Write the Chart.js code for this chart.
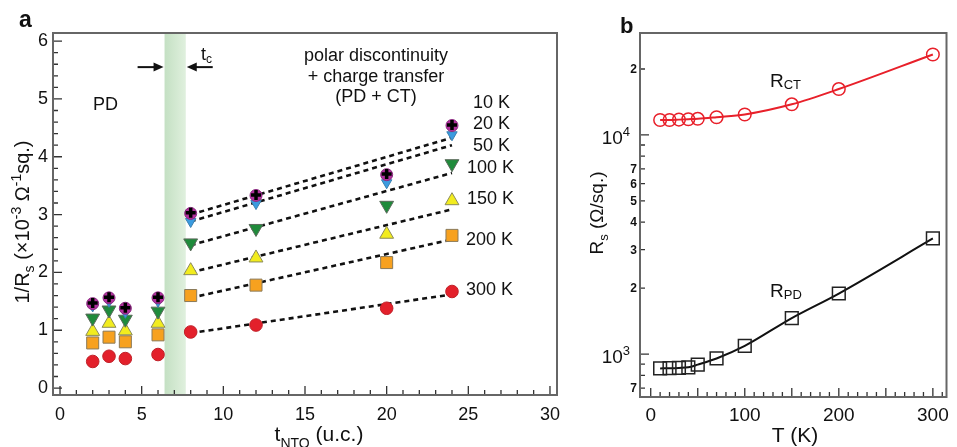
<!DOCTYPE html>
<html>
<head>
<meta charset="utf-8">
<script src="https://cdn.jsdelivr.net/npm/chart.js@4.4.1/dist/chart.umd.min.js"></script>
<style>
  html, body { margin: 0; padding: 0; background: #fff; }
  #wrap { position: relative; width: 957px; height: 447px; overflow: hidden; }
  #chartA { position: absolute; left: 0; top: 0; }
  #chartB { position: absolute; left: 575px; top: 0; }
</style>
</head>
<body>
<div id="wrap">
  <canvas id="chartA" width="575" height="447"></canvas>
  <canvas id="chartB" width="382" height="447"></canvas>
</div>
<script>
// ---- panel a data: 1/Rs (x1e-3 per ohm sq.) vs NTO thickness ----
const tNTO = [2, 3, 4, 6, 8, 12, 20, 24];
const rs10K  = [1.47, 1.57, 1.39, 1.57, 3.03, 3.34, 3.70, 4.55];
const rs20K  = [1.46, 1.56, 1.38, 1.56, 3.02, 3.33, 3.69, 4.54];
const rs50K  = [1.42, 1.50, 1.31, 1.50, 2.88, 3.19, 3.55, 4.38];
const rs100K = [1.21, 1.35, 1.19, 1.33, 2.51, 2.76, 3.16, 3.88];
const rs150K = [0.98, 1.12, 0.99, 1.12, 2.03, 2.25, 2.66, 3.24];
const rs200K = [0.78, 0.88, 0.80, 0.92, 1.60, 1.78, 2.17, 2.64];
const rs300K = [0.46, 0.55, 0.51, 0.58, 0.97, 1.09, 1.38, 1.67];

// dashed linear fits, read at both ends
const fitT    = [8, 24];
const fit10K  = [3.00, 4.33];
const fit50K  = [2.88, 4.20];
const fit100K = [2.47, 3.72];
const fit150K = [2.00, 3.09];
const fit200K = [1.56, 2.57];
const fit300K = [0.95, 1.62];

const bandT = [6.4, 7.7];           // shaded t_c region
const tempLabels = ['10 K', '20 K', '50 K', '100 K', '150 K', '200 K', '300 K'];
const xTicksA = [0, 5, 10, 15, 20, 25, 30];
const yTicksA = [0, 1, 2, 3, 4, 5, 6];

// ---- panel b data: Rs vs T ----
const tempK = [10, 20, 30, 40, 50, 70, 100, 150, 200, 300];
const rCT = [11700, 11700, 11750, 11800, 11850, 12050, 12400, 13800, 16200, 23300];
const rPD = [860, 862, 865, 870, 895, 955, 1090, 1460, 1890, 3370];
const xTicksB = [0, 100, 200, 300];
const yTicksB = [700, 800, 900, 1000, 2000, 3000, 4000, 5000, 6000, 7000, 8000, 9000, 10000, 20000];
const yTickTextB = ['7', '', '', '10^3', '2', '3', '4', '5', '6', '7', '', '', '10^4', '2'];

const FONT = '"Liberation Sans", Arial, Helvetica, sans-serif';
Chart.defaults.font.family = FONT;
Chart.defaults.color = '#111';

function pts(xs, ys) {
  return xs.map((x, i) => ({ x: x, y: ys[i] }));
}

function fontFor(p, size) {
  const s = (p.sub || p.sup) ? Math.round(size * 0.68) : size;
  return (p.bold ? 'bold ' : '') + s + 'px ' + FONT;
}

// draws text with sub/superscript parts
function drawRich(ctx, parts, x, y, size, align) {
  const widths = parts.map(p => { ctx.font = fontFor(p, size); return ctx.measureText(p.t).width; });
  const total = widths.reduce((a, b) => a + b, 0);
  let cx = align === 'center' ? x - total / 2 : align === 'right' ? x - total : x;
  ctx.textAlign = 'left';
  ctx.textBaseline = 'alphabetic';
  parts.forEach((p, i) => {
    ctx.font = fontFor(p, size);
    let dy = 0;
    if (p.sub) dy = p.dy !== undefined ? p.dy : size * 0.3;
    if (p.sup) dy = -size * 0.4;
    ctx.fillText(p.t, cx, y + dy);
    cx += widths[i];
  });
}

function arrow(ctx, x1, y1, x2, y2) {
  const dir = Math.sign(x2 - x1);
  ctx.beginPath();
  ctx.moveTo(x1, y1);
  ctx.lineTo(x2 - dir * 8, y2);
  ctx.stroke();
  ctx.beginPath();
  ctx.moveTo(x2, y2);
  ctx.lineTo(x2 - dir * 10, y2 - 4.5);
  ctx.lineTo(x2 - dir * 10, y2 + 4.5);
  ctx.closePath();
  ctx.fill();
}

// inward tick marks + frame
function drawFrame(chart, xMinor, xMajor, yMinorVals, yMajorVals) {
  const ctx = chart.ctx, a = chart.chartArea;
  const xs = chart.scales.x, ys = chart.scales.y;
  ctx.save();
  ctx.strokeStyle = '#333';
  ctx.lineWidth = 1.3;
  ctx.beginPath();
  xMinor.forEach(v => {
    const p = xs.getPixelForValue(v);
    const len = xMajor.includes(v) ? 9 : 5;
    ctx.moveTo(p, a.bottom); ctx.lineTo(p, a.bottom - len);
  });
  yMinorVals.forEach(v => {
    const p = ys.getPixelForValue(v);
    const len = yMajorVals.includes(v) ? 9 : 5;
    ctx.moveTo(a.left, p); ctx.lineTo(a.left + len, p);
  });
  ctx.stroke();
  ctx.strokeStyle = '#666';
  ctx.lineWidth = 2;
  ctx.strokeRect(a.left, a.top, a.right - a.left, a.bottom - a.top);
  ctx.restore();
}

const bandPlugin = {
  id: 'band',
  beforeDatasetsDraw(chart) {
    const ctx = chart.ctx, a = chart.chartArea, xs = chart.scales.x;
    const x1 = xs.getPixelForValue(bandT[0]), x2 = xs.getPixelForValue(bandT[1]);
    const g = ctx.createLinearGradient(x1, 0, x2, 0);
    g.addColorStop(0, '#c4e0c3');
    g.addColorStop(1, '#e0f0de');
    ctx.save();
    ctx.fillStyle = g;
    ctx.fillRect(x1, a.top, x2 - x1, a.bottom - a.top);
    ctx.restore();
  }
};

const decorA = {
  id: 'decorA',
  afterDraw(chart) {
    const ctx = chart.ctx, xs = chart.scales.x, ys = chart.scales.y;
    const xMinor = [], yMinor = [];
    for (let v = 0; v <= 30; v++) xMinor.push(v);
    for (let k = 0; k <= 30; k++) yMinor.push(Math.round(k * 2) / 10);
    drawFrame(chart, xMinor, xTicksA, yMinor, yTicksA);

    ctx.save();
    ctx.fillStyle = '#111';
    // panel letter
    ctx.font = 'bold 23px ' + FONT;
    ctx.fillText('a', 19, 27);
    // axis titles
    drawRich(ctx, [{ t: 't' }, { t: 'NTO', sub: true, dy: 7 }, { t: ' (u.c.)' }], 319, 441, 21, 'center');
    ctx.save();
    ctx.translate(29, 222);
    ctx.rotate(-Math.PI / 2);
    drawRich(ctx, [{ t: '1/R' }, { t: 's', sub: true, dy: 5 }, { t: ' (×10' }, { t: '-3', sup: true },
      { t: ' Ω' }, { t: '-1', sup: true }, { t: 'sq.)' }], 0, 0, 20, 'center');
    ctx.restore();
    // region notes
    drawRich(ctx, [{ t: 'PD' }], 93, 110, 18, 'left');
    drawRich(ctx, [{ t: 't' }, { t: 'c', sub: true, dy: 3 }], 201, 60, 18, 'left');
    ctx.font = '18px ' + FONT;
    ctx.textAlign = 'center';
    ctx.fillText('polar discontinuity', 376, 61);
    ctx.fillText('+ charge transfer', 376, 82);
    ctx.fillText('(PD + CT)', 376, 102);
    // arrows around t_c band
    ctx.strokeStyle = '#111';
    ctx.lineWidth = 2;
    const ay = ys.getPixelForValue(5.55);
    arrow(ctx, xs.getPixelForValue(4.75), ay, xs.getPixelForValue(bandT[0]) - 1, ay);
    arrow(ctx, xs.getPixelForValue(9.35), ay, xs.getPixelForValue(bandT[1]) + 1, ay);
    // temperature labels
    const lx = [473, 473, 473, 467, 467, 466, 466];
    const ly = [108, 129, 151, 173, 204, 245, 295];
    ctx.font = '18px ' + FONT;
    ctx.textAlign = 'left';
    tempLabels.forEach((t, i) => ctx.fillText(t, lx[i], ly[i]));
    ctx.restore();
  }
};

const decorB = {
  id: 'decorB',
  afterDraw(chart) {
    const ctx = chart.ctx, ys = chart.scales.y, a = chart.chartArea;
    const xMinor = [];
    for (let v = 0; v <= 310; v += 10) xMinor.push(v);
    const xMajor = [0, 50, 100, 150, 200, 250, 300];
    drawFrame(chart, xMinor, xMajor, yTicksB, [1000, 10000]);

    ctx.save();
    ctx.fillStyle = '#111';
    // y tick labels on log axis
    yTicksB.forEach((v, i) => {
      const txt = yTickTextB[i];
      if (!txt) return;
      const p = ys.getPixelForValue(v);
      if (txt.indexOf('^') > 0) {
        const [b, e] = txt.split('^');
        drawRich(ctx, [{ t: b }, { t: e, sup: true }], a.left - 10, p + 9, 19, 'right');
      } else {
        ctx.font = 'bold 12px ' + FONT;
        ctx.textAlign = 'right';
        ctx.textBaseline = 'middle';
        ctx.fillText(txt, a.left - 3, p + 1);
      }
    });
    ctx.textBaseline = 'alphabetic';
    ctx.font = 'bold 22px ' + FONT;
    ctx.textAlign = 'left';
    ctx.fillText('b', 45, 33);
    drawRich(ctx, [{ t: 'T (K)' }], 220, 442, 21, 'center');
    ctx.save();
    ctx.translate(28, 213);
    ctx.rotate(-Math.PI / 2);
    drawRich(ctx, [{ t: 'R' }, { t: 's', sub: true, dy: 5 }, { t: ' (Ω/sq.)' }], 0, 0, 19, 'center');
    ctx.restore();
    drawRich(ctx, [{ t: 'R' }, { t: 'CT', sub: true, dy: 2 }], 195, 87, 19, 'left');
    drawRich(ctx, [{ t: 'R' }, { t: 'PD', sub: true, dy: 2 }], 195, 297, 19, 'left');
    ctx.restore();
  }
};

function markerSet(label, ys, style, fill, border, radius, extra) {
  return Object.assign({
    label: label,
    data: pts(tNTO, ys),
    pointStyle: style,
    pointRadius: radius,
    pointBackgroundColor: fill,
    pointBorderColor: border,
    pointBorderWidth: 1,
    showLine: false
  }, extra || {});
}

function fitSet(ys) {
  return {
    data: pts(fitT, ys),
    showLine: true,
    borderColor: '#111',
    borderWidth: 2.6,
    borderDash: [5, 4],
    pointRadius: 0
  };
}

new Chart(document.getElementById('chartA'), {
  type: 'scatter',
  data: {
    datasets: [
      markerSet('10 K', rs10K, 'cross', '#000', '#000', 5, { pointBorderWidth: 3.5 }),
      markerSet('20 K', rs20K, 'circle', '#b2309e', '#8a2a80', 6),
      markerSet('50 K', rs50K, 'triangle', '#3a9be0', '#3a80b0', 6, { rotation: 180 }),
      markerSet('100 K', rs100K, 'triangle', '#1f8b3b', '#5a6a5a', 8, { rotation: 180 }),
      markerSet('150 K', rs150K, 'triangle', '#f2ec1e', '#8a8a5a', 8),
      markerSet('200 K', rs200K, 'rect', '#f7a11f', '#8a7a5a', 8.5),
      markerSet('300 K', rs300K, 'circle', '#e3202b', '#c02028', 6.3),
      fitSet(fit10K), fitSet(fit50K), fitSet(fit100K),
      fitSet(fit150K), fitSet(fit200K), fitSet(fit300K)
    ]
  },
  options: {
    responsive: false,
    animation: false,
    layout: { padding: { left: 0, top: 33, right: 18, bottom: 0 } },
    plugins: { legend: { display: false }, tooltip: { enabled: false } },
    scales: {
      x: {
        type: 'linear', min: -0.43, max: 30.43,
        grid: { display: false, drawTicks: false },
        border: { display: false },
        afterBuildTicks: s => { s.ticks = xTicksA.map(v => ({ value: v })); },
        afterFit: s => { s.height = 52; },
        ticks: { padding: 9, font: { size: 18 }, color: '#111', autoSkip: false, maxRotation: 0, callback: v => String(v) }
      },
      y: {
        type: 'linear', min: -0.12, max: 6.14,
        grid: { display: false, drawTicks: false },
        border: { display: false },
        afterBuildTicks: s => { s.ticks = yTicksA.map(v => ({ value: v })); },
        afterFit: s => { s.width = 53; },
        ticks: { padding: 5, font: { size: 18 }, color: '#111', autoSkip: false, callback: v => String(v) }
      }
    }
  },
  plugins: [bandPlugin, decorA]
});

new Chart(document.getElementById('chartB'), {
  type: 'line',
  data: {
    datasets: [
      {
        label: 'R_CT', data: pts(tempK, rCT),
        borderColor: '#e8202a', borderWidth: 2, cubicInterpolationMode: 'monotone',
        pointStyle: 'circle', pointRadius: 6.3, pointBorderColor: '#e8202a',
        pointBackgroundColor: 'rgba(0,0,0,0)', pointBorderWidth: 1.5
      },
      {
        label: 'R_PD', data: pts(tempK, rPD),
        borderColor: '#111', borderWidth: 2, cubicInterpolationMode: 'monotone',
        pointStyle: 'rect', pointRadius: 9, pointBorderColor: '#222',
        pointBackgroundColor: 'rgba(0,0,0,0)', pointBorderWidth: 1.5
      }
    ]
  },
  options: {
    responsive: false,
    animation: false,
    layout: { padding: { left: 0, top: 33, right: 2, bottom: 0 } },
    plugins: { legend: { display: false }, tooltip: { enabled: false } },
    scales: {
      x: {
        type: 'linear', min: -11.4, max: 314.5,
        grid: { display: false, drawTicks: false },
        border: { display: false },
        afterBuildTicks: s => { s.ticks = xTicksB.map(v => ({ value: v })); },
        afterFit: s => { s.height = 50; },
        ticks: { padding: 7, font: { size: 19 }, color: '#111', autoSkip: false, maxRotation: 0, callback: v => String(v) }
      },
      y: {
        type: 'logarithmic', min: 637, max: 29200,
        grid: { display: false, drawTicks: false },
        border: { display: false },
        afterFit: s => { s.width = 65; },
        ticks: { display: false }
      }
    }
  },
  plugins: [decorB]
});
</script>
</body>
</html>
